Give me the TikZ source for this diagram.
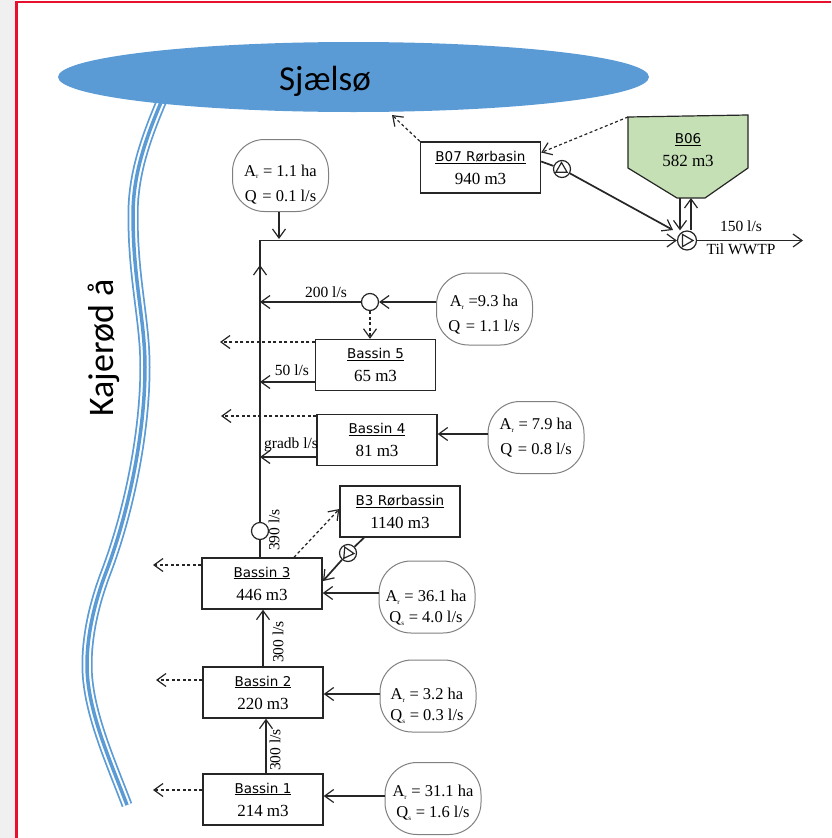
\documentclass[tikz,border=0pt]{standalone}
\usepackage{xcolor}
\usepackage{fontspec}
\setmainfont{Liberation Serif}
\newfontfamily\labelfont{DejaVu Sans}
\newfontfamily\titlefont{Carlito}
\usetikzlibrary{arrows.meta,shapes.geometric}
\definecolor{lakeblue}{HTML}{5B9BD5}
\definecolor{tankgreen}{HTML}{C5E0B4}
\definecolor{framered}{HTML}{E8112D}
\definecolor{inkgrey}{HTML}{262626}
\newcommand{\sbs}[1]{\textsubscript{\fontsize{7}{7}\selectfont #1}}
\newcommand{\basin}[2]{{\labelfont\fontsize{13.5}{23}\selectfont\underline{#1}}\\#2}
\tikzset{
  pipe/.style={draw=inkgrey,line width=1.2pt,-{Straight Barb[length=9pt,width=13pt,line width=1.2pt]}},
  heavypipe/.style={pipe,line width=1.7pt},
  spill/.style={pipe,dash pattern=on 3pt off 2.5pt},
  basinbox/.style={draw=inkgrey,line width=1.4pt,fill=white,minimum width=120pt,minimum height=51pt,inner sep=0pt,
    align=center,font=\fontsize{17}{23}\selectfont},
  bubble/.style={draw=gray,line width=1pt,fill=white,rounded corners=32pt,minimum width=96pt,minimum height=72pt,inner sep=0pt},
  bubbletext/.style={inner sep=0pt,align=center,font=\fontsize{16.5}{#1}\selectfont},
  bubbletext/.default=25,
  valve/.style={draw=inkgrey,line width=1.2pt,fill=white,circle,minimum size=17pt,inner sep=0pt},
  pumphead/.style={draw=inkgrey,line width=1.2pt,regular polygon,regular polygon sides=3,minimum size=13pt,inner sep=0pt},
  flowlabel/.style={inner sep=0pt,font=\fontsize{15.5}{16}\selectfont}
}
\begin{document}
\begin{tikzpicture}[x=1pt,y=-1pt]
  \useasboundingbox (0,0) rectangle (831,838);
  \fill[gray!12] (0,0) rectangle (15,838);
  \draw[framered,line width=2.5pt] (16.5,838) -- (16.5,2) -- (831,2);

  % river, three strands
  \foreach \wd/\col in {11pt/lakeblue,7.5pt/white,3.5pt/lakeblue}
    \draw[\col,line width=\wd] (162,100) .. controls (145,140) and (133,175) .. (133,215)
      .. controls (133,280) and (145,320) .. (145,367)
      .. controls (145,430) and (130,510) .. (105,575)
      .. controls (92,610) and (87,640) .. (87,665)
      .. controls (87,710) and (110,760) .. (127,805);
  \node[ellipse,fill=lakeblue,minimum width=591pt,minimum height=70pt,inner sep=0pt] (lake) at (353.5,77) {};
  \node[font=\titlefont\fontsize{35}{40}\selectfont,inner sep=0pt] (lakename) at (325,81) {Sjælsø};
  \node[rotate=90,font=\titlefont\fontsize{36}{40}\selectfont,inner sep=0pt] (rivername) at (104,348) {Kajerød å};

  % basins
  \node[basinbox] (b07) at (480.5,167.5) {\basin{B07 Rørbasin}{940 m3}};
  \draw[draw=inkgrey,line width=1.2pt,fill=tankgreen] (628,117) coordinate (b06tl) -- (748,115) -- (748,168) -- (705,198)
    -- (677,198) -- (628,168) -- cycle;
  \coordinate (b06bl) at (680,198);
  \coordinate (b06br) at (691,198);
  \node[align=center,inner sep=0pt,font=\fontsize{17}{23}\selectfont] (b06) at (688,150) {\basin{B06}{582 m3}};
  \node[basinbox] (bas5) at (375.5,365) {\basin{Bassin 5}{65 m3}};
  \node[basinbox] (bas4) at (377,440) {\basin{Bassin 4}{81 m3}};
  \node[basinbox] (b3r) at (400,511.5) {\basin{B3 Rørbassin}{1140 m3}};
  \node[basinbox] (bas3) at (262,583.5) {\basin{Bassin 3}{446 m3}};
  \node[basinbox] (bas2) at (263,692.5) {\basin{Bassin 2}{220 m3}};
  \node[basinbox] (bas1) at (263,799.5) {\basin{Bassin 1}{214 m3}};

  % catchments
  \node[bubble] (cat0) at (280.5,175.5) {};
  \node[bubble] (cat5) at (484.5,309) {};
  \node[bubble] (cat4) at (536,437.5) {};
  \node[bubble] (cat3) at (427,597) {};
  \node[bubble] (cat2) at (428,696) {};
  \node[bubble] (cat1) at (433,798.5) {};
  \node[bubbletext] (txt0) at (280.5,184.5) {A\sbs{r} = 1.1 ha\\Q\sbs{\,} = 0.1 l/s};
  \node[bubbletext] (txt5) at (484,315) {A\sbs{r} =9.3 ha\\Q\sbs{\,} = 1.1 l/s};
  \node[bubbletext] (txt4) at (536,438) {A\sbs{r} = 7.9 ha\\Q\sbs{\,} = 0.8 l/s};
  \node[bubbletext=21] (txt3) at (426,608) {A\sbs{r} = 36.1 ha\\Q\sbs{s} = 4.0 l/s};
  \node[bubbletext=21] (txt2) at (427,706) {A\sbs{r} = 3.2 ha\\Q\sbs{s} = 0.3 l/s};
  \node[bubbletext=21] (txt1) at (433,803) {A\sbs{r} = 31.1 ha\\Q\sbs{s} = 1.6 l/s};

  % main line
  \coordinate (corner) at (260,240.5);
  \coordinate (midup) at (260,265);
  \coordinate (wwtp) at (803,240.5);
  \coordinate (main5) at (260,302);
  \coordinate (mainb5) at (260,382);
  \coordinate (mainb4) at (260,457);
  \node[valve,minimum size=19pt] (pumpmain) at (687,240.5) {};
  \node[pumphead,shape border rotate=-90,minimum size=14pt] (headmain) at (686,240.5) {};
  \node[valve] (pumpb07) at (562,169) {};
  \node[pumphead,shape border rotate=0] (headb07) at (561.5,169) {};
  \node[valve] (pumpb3) at (348,553) {};
  \node[pumphead,shape border rotate=-95] (headb3) at (347.5,553) {};
  \node[valve] (split5) at (370,302) {};
  \node[valve] (split3) at (260,531) {};

  \draw[pipe,-] (bas3.north -| split3) -- (split3);
  \draw[pipe] (split3) -- (corner) -- (pumpmain.west);
  \draw[pipe] (split3) -- (midup);
  \draw[pipe] (pumpmain.east) -- (wwtp);
  \draw[pipe] (b06bl) -- (b06bl |- pumpmain.north);
  \draw[pipe] (b06br |- pumpmain.north) -- (b06br);
  \draw[heavypipe,-] ([yshift=6pt]b07.east) -- (pumpb07);
  \coordinate (pumpin) at (673,230);
  \draw[heavypipe] (pumpb07) -- (pumpin);
  \draw[pipe] (cat0.south -| 279,0) -- (279,239);

  % side inflows
  \draw[pipe] (cat5.west |- split5) -- (split5.east);
  \draw[pipe] (split5.west) -- (main5);
  \draw[spill] (split5.south) -- (split5 |- bas5.north);
  \draw[pipe] (bas5.west |- mainb5) -- (mainb5);
  \draw[pipe] (bas4.west |- mainb4) -- (mainb4);
  \draw[pipe] (cat4.west |- 0,434) -- (bas4.east |- 0,434);
  \draw[heavypipe,-] (b3r.south -| 364,0) -- (pumpb3);
  \coordinate (bas3in) at (323,581);
  \draw[heavypipe] (pumpb3) -- (bas3in);
  \draw[pipe] (cat3.west |- 0,593) -- (bas3.east |- 0,593);
  \draw[pipe] (cat2.west |- 0,694) -- (bas2.east |- 0,694);
  \draw[pipe] (cat1.west |- 0,796) -- (bas1.east |- 0,796);
  \draw[pipe] (bas2.north -| 263,0) -- (bas3.south -| 263,0);
  \draw[pipe] (bas1.north -| 266,0) -- (bas2.south -| 266,0);

  % overflows
  \coordinate (lakein) at (392,115);
  \draw[spill] (b07.north west) -- (lakein);
  \draw[spill] (b06tl) -- ([yshift=15pt]b07.east);
  \draw[spill] (bas5.west |- 0,342) -- (220,342);
  \draw[spill] (bas4.west |- 0,416) -- (221,416);
  \draw[spill] (bas3.west |- 0,565) -- (153,565);
  \draw[spill] (bas2.west |- 0,680) -- (156,680);
  \draw[spill] (bas1.west |- 0,790) -- (153,790);
  \draw[spill] (bas3.north -| 294,0) -- (b3r.west |- 0,509);

  % flow labels
  \node[flowlabel] (q200) at (326,292) {200 l/s};
  \node[flowlabel] (q50) at (292,370) {50 l/s};
  \node[flowlabel] (qgradb) at (291,445) {gradb l/s};
  \node[flowlabel,rotate=90] (q390) at (274,530) {390 l/s};
  \node[flowlabel,rotate=90] (q300a) at (278,642) {300 l/s};
  \node[flowlabel,rotate=90] (q300b) at (275,750) {300 l/s};
  \node[flowlabel] (q150) at (741,226) {150 l/s};
  \node[flowlabel] (qwwtp) at (741,249) {Til WWTP};
\end{tikzpicture}
\end{document}
